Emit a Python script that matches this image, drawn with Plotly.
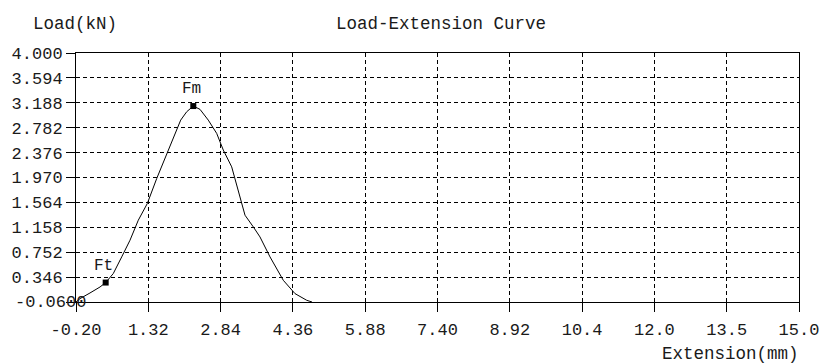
import plotly.graph_objects as go

# Curve data
ext_mm = [-0.20, -0.116, 0.094, 0.305, 0.424, 0.584, 0.761, 0.935, 1.110, 1.299, 1.497, 1.707,
          1.917, 2.001, 2.127, 2.266, 2.407, 2.581, 2.758, 2.897, 3.073, 3.212, 3.353, 3.528,
          3.668, 3.879, 4.158, 4.404, 4.650, 4.762]
load_kn = [-0.06, -0.005, 0.087, 0.185, 0.257, 0.404, 0.675, 0.947, 1.274, 1.546, 1.954, 2.363,
           2.771, 2.906, 3.042, 3.135, 3.081, 2.906, 2.689, 2.417, 2.144, 1.764, 1.355, 1.164,
           1.001, 0.675, 0.294, 0.077, -0.032, -0.06]

# Marked points
point_names = ["Ft", "Fm"]
point_ext = [0.424, 2.266]
point_load = [0.257, 3.135]

# Axis ticks
x_tick_vals = [-0.20, 1.32, 2.84, 4.36, 5.88, 7.40, 8.92, 10.44, 11.96, 13.48, 15.0]
x_tick_labels = ["-0.20", "1.32", "2.84", "4.36", "5.88", "7.40", "8.92", "10.4", "12.0", "13.5", "15.0"]
y_tick_vals = [-0.06, 0.346, 0.752, 1.158, 1.564, 1.970, 2.376, 2.782, 3.188, 3.594, 4.000]
y_tick_labels = ["", "0.346", "0.752", "1.158", "1.564", "1.970", "2.376", "2.782", "3.188", "3.594", "4.000"]
y_min_label = "-0.0600"

FONT = "Liberation Mono, DejaVu Sans Mono, monospace"
INK = "#1a1a1a"

fig = go.Figure()
fig.add_trace(go.Scatter(x=ext_mm, y=load_kn, mode="lines",
                         line=dict(color="black", width=1), hoverinfo="skip"))
fig.add_trace(go.Scatter(x=point_ext, y=point_load, mode="markers",
                         marker=dict(symbol="square", size=6, color="black"), hoverinfo="skip"))

for name, px, py in zip(point_names, point_ext, point_load):
    fig.add_annotation(x=px, y=py, text=name, showarrow=False, xref="x", yref="y",
                       yshift=17, xshift=-2, font=dict(family=FONT, size=16, color=INK))

axis_common = dict(
    showline=True, linecolor="black", linewidth=1, mirror=True,
    ticks="outside", ticklen=9, tickcolor="black", tickwidth=1,
    showgrid=True, gridcolor="black", gridwidth=1, griddash="4px,3px",
    zeroline=False, tickfont=dict(family=FONT, size=17, color=INK),
    tickmode="array", automargin=False,
)

fig.update_xaxes(range=[-0.20, 15.0], tickvals=x_tick_vals, ticktext=x_tick_labels,
                 ticklabelstandoff=3, **axis_common)
fig.update_yaxes(range=[-0.06, 4.0], tickvals=y_tick_vals, ticktext=y_tick_labels, **axis_common)

fig.add_annotation(xref="paper", yref="y", x=0, y=y_tick_vals[0], xshift=-63, text=y_min_label,
                   showarrow=False, xanchor="left", yanchor="middle",
                   font=dict(family=FONT, size=17, color=INK))
fig.add_annotation(xref="paper", yref="paper", x=0, y=1, xshift=-45, yshift=29, text="Load(kN)",
                   showarrow=False, xanchor="left", yanchor="middle",
                   font=dict(family=FONT, size=17.5, color=INK))
fig.add_annotation(xref="paper", yref="paper", x=0.5, y=1, yshift=29, xshift=3, text="Load-Extension Curve",
                   showarrow=False, xanchor="center", yanchor="middle",
                   font=dict(family=FONT, size=17.5, color=INK))
fig.add_annotation(xref="paper", yref="paper", x=1, y=0, xshift=2, yshift=-52, text="Extension(mm)",
                   showarrow=False, xanchor="right", yanchor="middle",
                   font=dict(family=FONT, size=17.5, color=INK))

# the page has an 8px body margin; size the figure to fill the rest of the window
fig.update_layout(
    width=822, height=355,
    margin=dict(l=68, r=31, t=45, b=61),
    paper_bgcolor="white", plot_bgcolor="white",
    showlegend=False,
)

fig.write_html("out.html")
